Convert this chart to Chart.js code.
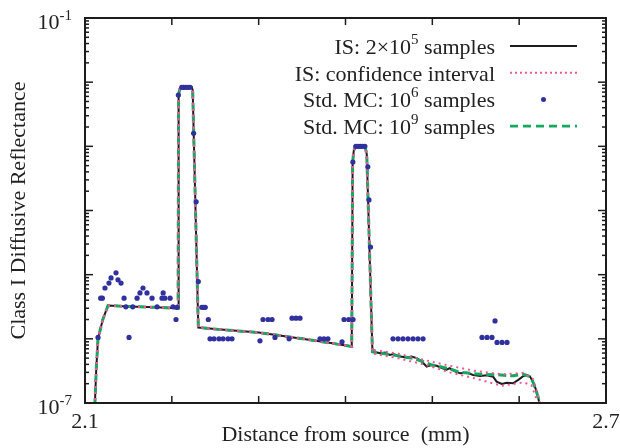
<!DOCTYPE html>
<html>
<head>
<meta charset="utf-8">
<script src="https://cdn.jsdelivr.net/npm/chart.js@4.4.1/dist/chart.umd.min.js"></script>
<style>
  body { margin: 0; background: #fff; }
  #wrap { width: 620px; height: 448px; position: relative; }
</style>
</head>
<body>
<div id="wrap"><canvas id="chart"></canvas></div>
<script>
// shared part of the curves (rise, plateau, both peaks) - distance in mm
const bodyX = [2.1113, 2.1130, 2.1150, 2.1205, 2.1265, 2.1500, 2.1800, 2.2065,
  2.2072, 2.2078, 2.2092, 2.2114, 2.2229, 2.2240, 2.2305,
  2.2600, 2.3000, 2.3300, 2.3600, 2.3850, 2.4072,
  2.4082, 2.4095, 2.4115, 2.4225, 2.4245, 2.4310];
const bodyY = [9e-8, 3.5e-7, 1.0e-6, 2.0e-6, 3.3e-6, 3.2e-6, 3.1e-6, 3.0e-6,
  3.0e-6, 6.5e-3, 7.8e-3, 8.4e-3, 8.4e-3, 7.6e-3, 1.5e-6,
  1.38e-6, 1.25e-6, 1.1e-6, 9.6e-7, 8.5e-7, 7.6e-7,
  5.5e-4, 8.5e-4, 1.0e-3, 1.0e-3, 7.5e-4, 6.3e-7];

// IS 2x10^5 samples, noisy tail
const isTailX = [2.4320, 2.4400, 2.4455, 2.4510, 2.4550, 2.4630, 2.4705, 2.4760, 2.4820, 2.4880,
  2.4935, 2.4990, 2.5050, 2.5110, 2.5165, 2.5200, 2.5260, 2.5320, 2.5396, 2.5470,
  2.5550, 2.5626, 2.5700, 2.5740, 2.5800, 2.5857, 2.5930, 2.5990, 2.6050, 2.6090,
  2.6125, 2.6160, 2.6194, 2.6220, 2.6250];
const isTailY = [6.3e-7, 5.95e-7, 6.1e-7, 5.6e-7, 5.8e-7, 5.3e-7, 5.1e-7, 5.3e-7, 5.0e-7, 4.4e-7,
  3.7e-7, 3.9e-7, 3.8e-7, 3.5e-7, 3.3e-7, 3.5e-7, 3.1e-7, 2.9e-7, 2.97e-7, 2.73e-7,
  2.64e-7, 2.7e-7, 2.57e-7, 2.15e-7, 1.98e-7, 2.07e-7, 2.03e-7, 2.29e-7, 2.64e-7, 2.73e-7,
  2.57e-7, 2.15e-7, 1.6e-7, 1.19e-7, 8e-8];

// confidence interval bounds, tail
const ciHiX = [2.432, 2.46, 2.49, 2.52, 2.55, 2.58, 2.605, 2.616, 2.622, 2.625];
const ciHiY = [6.7e-7, 5.9e-7, 4.7e-7, 3.8e-7, 3.15e-7, 2.8e-7, 2.95e-7, 2.35e-7, 1.3e-7, 8e-8];
const ciLoX = [2.432, 2.46, 2.49, 2.52, 2.55, 2.58, 2.605, 2.614, 2.619, 2.623];
const ciLoY = [5.9e-7, 5.0e-7, 4.0e-7, 3.0e-7, 2.4e-7, 1.85e-7, 2.1e-7, 1.9e-7, 1.25e-7, 8e-8];

// Std. MC 10^9 samples, tail
const mc9TailX = [2.4320, 2.4550, 2.4800, 2.5000, 2.5200, 2.5320, 2.5550, 2.5750, 2.5930, 2.6050,
  2.6120, 2.6160, 2.6194, 2.6220, 2.6250];
const mc9TailY = [6.2e-7, 5.6e-7, 4.9e-7, 3.9e-7, 3.4e-7, 3.0e-7, 2.8e-7, 2.75e-7, 2.65e-7, 2.8e-7,
  2.6e-7, 2.1e-7, 1.6e-7, 1.2e-7, 8e-8];

// Std. MC 10^6 samples (dots)
const mc6X = [2.1150, 2.1181, 2.1200, 2.1230, 2.1276, 2.1300, 2.1357, 2.1380, 2.1415, 2.1450,
  2.1470, 2.1507, 2.1550, 2.1600, 2.1633, 2.1668, 2.1714, 2.1772, 2.1830, 2.1887,
  2.1900, 2.1920, 2.1980, 2.2013, 2.2060, 2.2048,
  2.2075, 2.2114, 2.2135, 2.2160, 2.2185, 2.2210, 2.2251, 2.2280, 2.2305,
  2.2345, 2.2365, 2.2385, 2.2420,
  2.2440, 2.2486, 2.2543, 2.2590, 2.2647, 2.2693,
  2.3015, 2.3050, 2.3108, 2.3154, 2.3188, 2.3350, 2.3384, 2.3430, 2.3476,
  2.3706, 2.3752, 2.3798, 2.3960, 2.3983, 2.4037, 2.4087,
  2.4085, 2.4119, 2.4145, 2.4170, 2.4195, 2.4223, 2.4257, 2.4270, 2.4288,
  2.4547, 2.4605, 2.4662, 2.4720, 2.4778, 2.4835, 2.4893,
  2.5572, 2.5630, 2.5687, 2.5722, 2.5745, 2.5803, 2.5860];
const mc6Y = [1.05e-6, 4.3e-6, 4.3e-6, 6.2e-6, 7.4e-6, 8.9e-6, 1.07e-5, 8.3e-6, 7.4e-6, 4.3e-6,
  3.15e-6, 1.05e-6, 3.15e-6, 4.3e-6, 5.2e-6, 6.2e-6, 5.2e-6, 4.3e-6, 3.15e-6, 4.3e-6,
  5.2e-6, 4.3e-6, 4.3e-6, 3.15e-6, 3.1e-6, 2.0e-6,
  6.3e-3, 8.3e-3, 8.3e-3, 8.3e-3, 8.3e-3, 8.3e-3, 1.6e-3, 1.37e-4, 7.8e-6,
  3.1e-6, 3.1e-6, 3.1e-6, 2.0e-6,
  1.0e-6, 1.0e-6, 1.0e-6, 1.0e-6, 1.0e-6, 1.0e-6,
  9.3e-7, 2.0e-6, 2.0e-6, 2.0e-6, 1.05e-6, 1.0e-6, 2.1e-6, 2.1e-6, 2.1e-6,
  1.0e-6, 1.0e-6, 1.0e-6, 9.0e-7, 2.0e-6, 2.0e-6, 2.0e-6,
  5.7e-4, 1.0e-3, 1.0e-3, 1.0e-3, 1.0e-3, 1.0e-3, 4.8e-4, 1.46e-4, 2.7e-5,
  1.0e-6, 1.0e-6, 1.0e-6, 1.0e-6, 1.0e-6, 1.0e-6, 1.0e-6,
  1.05e-6, 1.05e-6, 1.05e-6, 1.9e-6, 8.8e-7, 8.8e-7, 8.8e-7];

// axis ticks
const xTicks = [2.1, 2.2, 2.3, 2.4, 2.5, 2.6, 2.7];
const xTickLabels = ["2.1", "", "", "", "", "", "2.7"];
const yDecades = [-7, -6, -5, -4, -3, -2, -1];
const yLabelled = [-7, -1];

const SERIF = '"Liberation Serif", "DejaVu Serif", serif';

function pts(xs, ys) {
    return xs.map((v, i) => ({ x: v, y: ys[i] }));
}

const isData = pts(bodyX.concat(isTailX), bodyY.concat(isTailY));
const ciHiData = pts(bodyX.concat(ciHiX), bodyY.concat(ciHiY));
const ciLoData = pts(bodyX.concat(ciLoX), bodyY.concat(ciLoY));
const mc9Data = pts(bodyX.concat(mc9TailX), bodyY.concat(mc9TailY));
const mc6Data = pts(mc6X, mc6Y);

const BLACK = "#1c1c1c";
const PINK = "#f2549a";
const GREEN = "#16a85c";
const BLUE = "#30309e";

// frame, inward ticks, labels and legend
const decorations = {
    id: "decorations",
    afterDatasetsDraw(chart) {
        const { ctx, chartArea: a, scales } = chart;
        const xs = scales.x, ys = scales.y;

        function seg(x1, y1, x2, y2) {
            ctx.beginPath();
            ctx.moveTo(x1, y1);
            ctx.lineTo(x2, y2);
            ctx.stroke();
        }

        ctx.save();
        ctx.strokeStyle = BLACK;
        ctx.lineWidth = 1.5;

        // x ticks top and bottom
        xTicks.forEach(v => {
            const px = xs.getPixelForValue(v);
            seg(px, a.bottom, px, a.bottom - 7);
            seg(px, a.top, px, a.top + 7);
        });

        // y ticks, decades plus minors
        yDecades.forEach(e => {
            const py = ys.getPixelForValue(Math.pow(10, e));
            seg(a.left, py, a.left + 8, py);
            seg(a.right, py, a.right - 8, py);
            if (e === -1) return;
            for (let m = 2; m < 10; m++) {
                const pm = ys.getPixelForValue(m * Math.pow(10, e));
                seg(a.left, pm, a.left + 4, pm);
                seg(a.right, pm, a.right - 4, pm);
            }
        });

        ctx.lineWidth = 2;
        ctx.strokeRect(a.left, a.top, a.right - a.left, a.bottom - a.top);

        ctx.fillStyle = "#222";
        ctx.textBaseline = "alphabetic";

        // x tick labels
        ctx.font = "22px " + SERIF;
        ctx.textAlign = "center";
        xTicks.forEach((v, i) => {
            if (xTickLabels[i]) ctx.fillText(xTickLabels[i], xs.getPixelForValue(v), 428);
        });

        // y tick labels 10^e
        yLabelled.forEach(e => {
            const py = ys.getPixelForValue(Math.pow(10, e));
            ctx.font = "15px " + SERIF;
            const sup = String(e);
            const wSup = ctx.measureText(sup).width;
            ctx.textAlign = "right";
            ctx.fillText(sup, 72, py + 2);
            ctx.font = "22px " + SERIF;
            ctx.fillText("10", 72 - wSup, py + 11);
        });

        // axis titles
        ctx.font = "22px " + SERIF;
        ctx.textAlign = "center";
        ctx.fillText("Distance from source  (mm)", (a.left + a.right) / 2, 441);
        ctx.save();
        ctx.translate(25, (a.top + a.bottom) / 2);
        ctx.rotate(-Math.PI / 2);
        ctx.fillText("Class I Diffusive Reflectance", 0, 0);
        ctx.restore();

        // legend: right aligned text, sample on the right
        const textRight = 495, s1 = 510, s2 = 577;
        const rows = [
            [["IS: 2\u00d710", 0], ["5", 1], [" samples", 0]],
            [["IS: confidence interval", 0]],
            [["Std. MC: 10", 0], ["6", 1], [" samples", 0]],
            [["Std. MC: 10", 0], ["9", 1], [" samples", 0]]
        ];
        ctx.textAlign = "left";
        rows.forEach((parts, r) => {
            const base = 54 + r * 26.7;
            let w = 0;
            parts.forEach(p => {
                ctx.font = (p[1] ? "15px " : "22px ") + SERIF;
                w += ctx.measureText(p[0]).width;
            });
            let cx = textRight - w;
            parts.forEach(p => {
                ctx.font = (p[1] ? "15px " : "22px ") + SERIF;
                ctx.fillText(p[0], cx, p[1] ? base - 10 : base);
                cx += ctx.measureText(p[0]).width;
            });
            const sy = base - 8;
            ctx.setLineDash([]);
            if (r === 0) {
                ctx.strokeStyle = BLACK; ctx.lineWidth = 2.2;
                seg(s1, sy, s2, sy);
            } else if (r === 1) {
                ctx.strokeStyle = PINK; ctx.lineWidth = 2;
                ctx.setLineDash([2, 3]);
                seg(s1, sy, s2, sy);
            } else if (r === 2) {
                ctx.fillStyle = BLUE;
                ctx.beginPath();
                ctx.arc((s1 + s2) / 2, sy, 2.5, 0, Math.PI * 2);
                ctx.fill();
                ctx.fillStyle = "#222";
            } else {
                ctx.strokeStyle = GREEN; ctx.lineWidth = 2.8;
                ctx.setLineDash([8, 5]);
                seg(s1, sy, s2, sy);
            }
        });
        ctx.restore();
    }
};

const lineStyle = {
    showLine: true,
    pointRadius: 0,
    tension: 0,
    fill: false,
    clip: 0
};

// first dataset ends up on top, so dots go first and the IS line last
const ctx = document.getElementById("chart").getContext("2d");
const chart = new Chart(ctx, {
    type: "scatter",
    data: {
        datasets: [
            {
                label: "Std. MC: 10^6 samples",
                data: mc6Data,
                showLine: false,
                pointRadius: 2.6,
                pointBorderWidth: 0,
                pointBackgroundColor: BLUE,
                clip: 0
            },
            Object.assign({ label: "IS: confidence interval", data: ciHiData,
                borderColor: PINK, borderWidth: 2, borderDash: [2, 4] }, lineStyle),
            Object.assign({ label: "IS: confidence interval (low)", data: ciLoData,
                borderColor: PINK, borderWidth: 2, borderDash: [2, 4] }, lineStyle),
            Object.assign({ label: "Std. MC: 10^9 samples", data: mc9Data,
                borderColor: GREEN, borderWidth: 3, borderDash: [8, 4] }, lineStyle),
            Object.assign({ label: "IS: 2x10^5 samples", data: isData,
                borderColor: BLACK, borderWidth: 2 }, lineStyle)
        ]
    },
    options: {
        responsive: true,
        maintainAspectRatio: false,
        animation: false,
        layout: { padding: { left: 85, top: 18, right: 14, bottom: 45 } },
        plugins: { legend: { display: false }, tooltip: { enabled: false } },
        scales: {
            x: { type: "linear", min: 2.1, max: 2.7, display: false },
            y: { type: "logarithmic", min: 1e-7, max: 1e-1, display: false }
        }
    },
    plugins: [decorations]
});
</script>
</body>
</html>
